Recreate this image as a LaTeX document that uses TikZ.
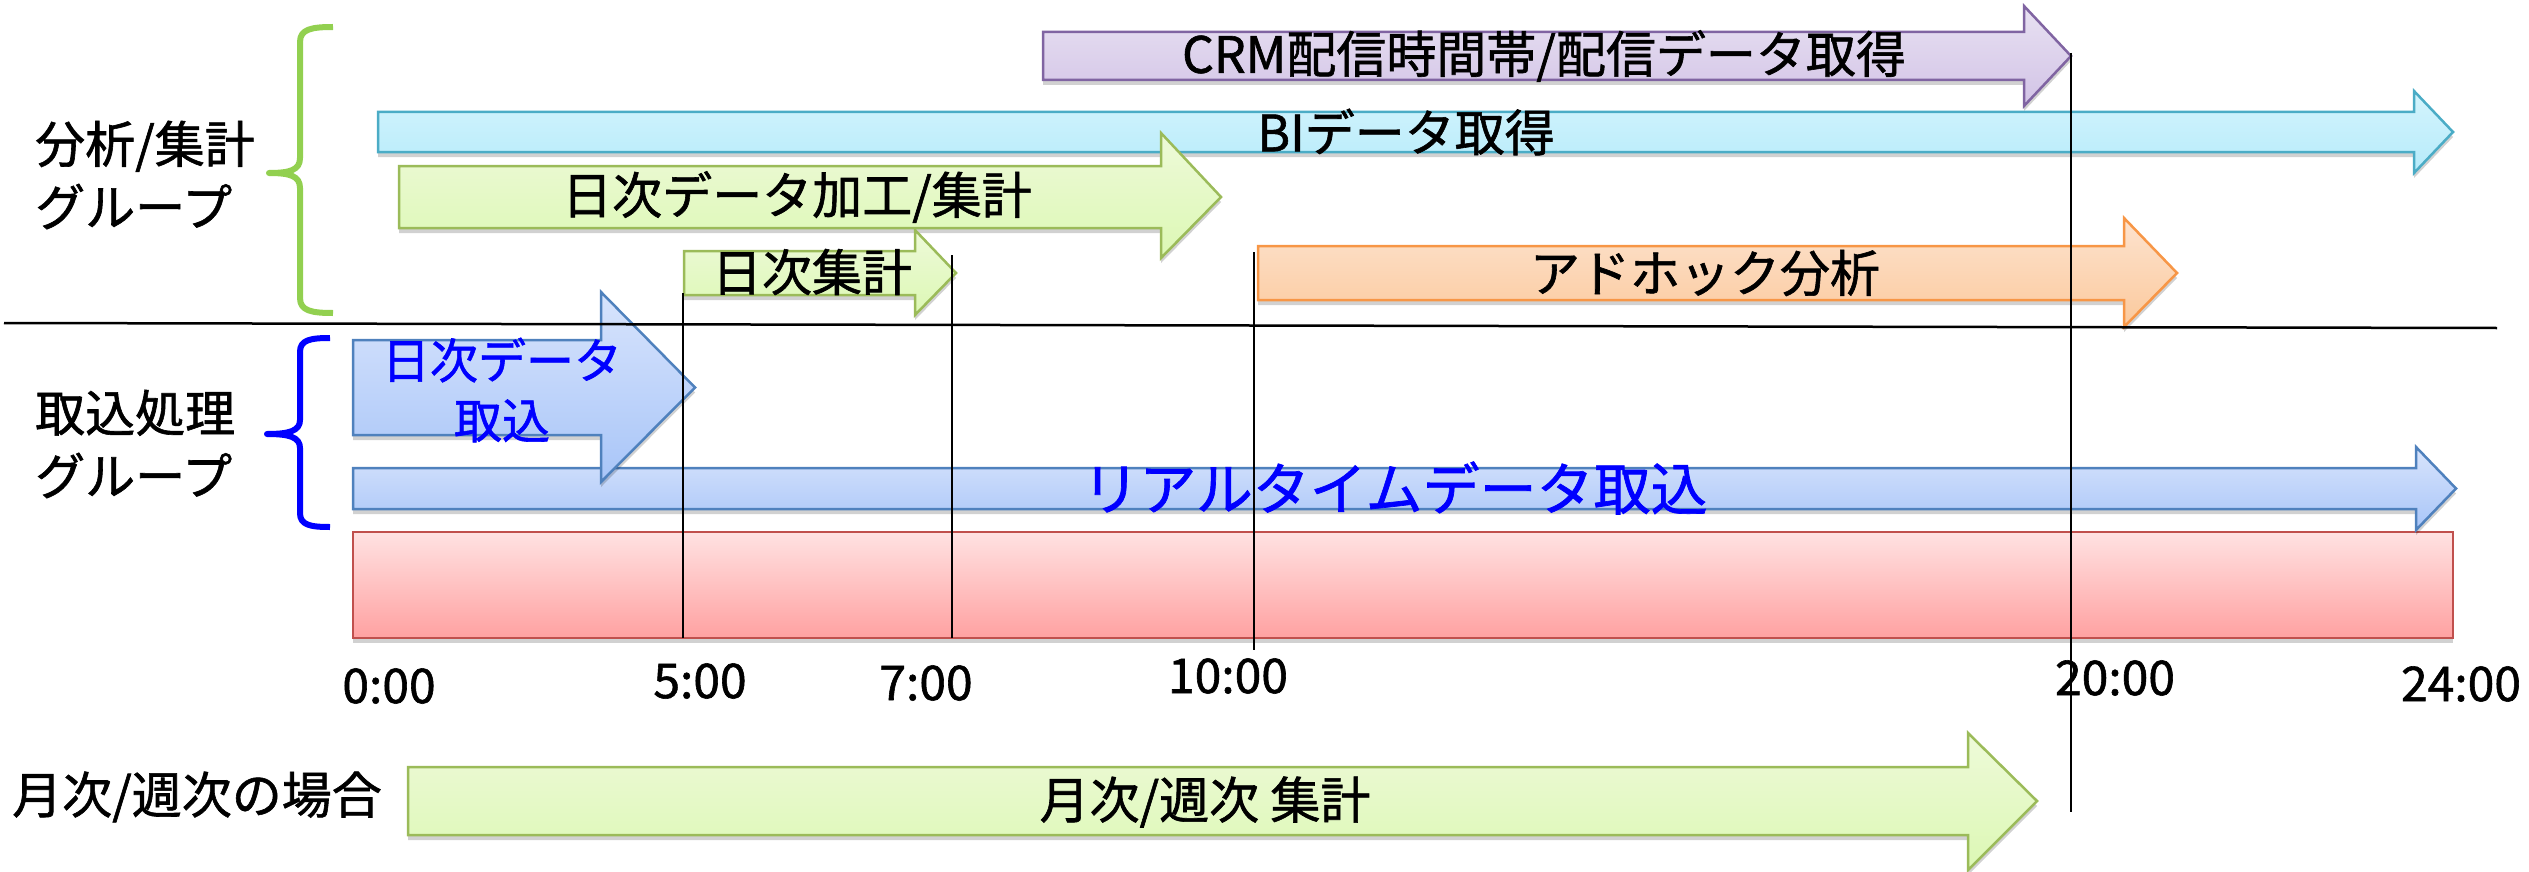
\documentclass[tikz,border=0pt]{standalone}
\usepackage{fontspec}
\setmainfont{Noto Sans CJK JP}[FakeBold=1.2]
\usetikzlibrary{shadows}
\definecolor{purpB}{HTML}{8064A2}\definecolor{purpT}{HTML}{E8E1F2}\definecolor{purpBo}{HTML}{D2C3E6}
\definecolor{cyanB}{HTML}{4BACC6}\definecolor{cyanT}{HTML}{D4F4FC}\definecolor{cyanBo}{HTML}{B6EBFB}
\definecolor{grnB}{HTML}{9BBB59}\definecolor{grnT}{HTML}{EEFAD9}\definecolor{grnBo}{HTML}{DCF8B4}
\definecolor{orgB}{HTML}{F79646}\definecolor{orgT}{HTML}{FDE3CF}\definecolor{orgBo}{HTML}{FBC99C}
\definecolor{bluB}{HTML}{4F81BD}\definecolor{bluT}{HTML}{D8E4FC}\definecolor{bluBo}{HTML}{A8C5F8}
\definecolor{redB}{HTML}{C0504D}\definecolor{redT}{HTML}{FFE2E2}\definecolor{redBo}{HTML}{FFA1A1}
\definecolor{braceG}{HTML}{92D050}\definecolor{braceB}{HTML}{0000FF}
% #1 style, #2 left, #3 top, #4 bottom, #5 head start, #6 head top, #7 head bottom, #8 tip
\newcommand{\blockarr}[8]{%
  \draw[#1] (#2,#3) -- (#5,#3) -- (#5,#6) -- (#8,{(#3+#4)/2}) -- (#5,#7) -- (#5,#4) -- (#2,#4) -- cycle;}
\tikzset{
  shd/.style={drop shadow={shadow xshift=0pt,shadow yshift=-5pt,opacity=0.18,fill=black}},
  purparr/.style={shd,draw=purpB,line width=2.5pt,top color=purpT,bottom color=purpBo},
  cyanarr/.style={shd,draw=cyanB,line width=2.5pt,top color=cyanT,bottom color=cyanBo},
  grnarr/.style={shd,draw=grnB,line width=2.5pt,top color=grnT,bottom color=grnBo},
  orgarr/.style={shd,draw=orgB,line width=2.5pt,top color=orgT,bottom color=orgBo},
  bluarr/.style={shd,draw=bluB,line width=2.5pt,top color=bluT,bottom color=bluBo},
  redbox/.style={shd,draw=redB,line width=2.5pt,top color=redT,bottom color=redBo},
  lbl/.style={font=\fontsize{50}{63}\selectfont,inner sep=0pt},
  bluelbl/.style={font=\fontsize{48}{60}\selectfont,inner sep=0pt,text=braceB,align=center},
  grouplbl/.style={font=\fontsize{50}{63}\selectfont,inner sep=0pt,align=left,anchor=west},
  timelbl/.style={font=\fontsize{48}{58}\selectfont,inner sep=0pt},
  vline/.style={line width=1.6pt,black},
  bracestyle/.style={line width=6pt,line cap=butt,line join=round},
}
\begin{document}
\begin{tikzpicture}[x=1pt,y=-1pt]
\useasboundingbox (0,0) rectangle (2529,872);
% arrows
\blockarr{purparr}{1043}{32}{80}{2024}{6}{106}{2071}
\blockarr{cyanarr}{378}{112}{152}{2414}{91}{173}{2453}
\blockarr{grnarr}{399}{166}{228}{1161}{133}{258}{1221}
\blockarr{grnarr}{684}{251}{295}{915}{230}{315}{956}
\blockarr{orgarr}{1258}{246}{300}{2124}{218}{327}{2177}
\draw[redbox] (353,532) rectangle (2453,638);
\blockarr{bluarr}{353}{468}{509}{2416}{447}{530}{2456}
\blockarr{bluarr}{353}{340}{435}{601}{292}{482}{695}
\blockarr{grnarr}{408}{767}{835}{1968}{733}{870}{2037}
% divider
\coordinate (divL) at (4,323);
\coordinate (divR) at (2497,328);
\draw[line width=2.5pt] (divL) -- (divR);
% braces
\draw[bracestyle,braceG] (333,27) .. controls (312,27) and (300,29) .. (300,42) -- (300,158)
  .. controls (300,170) and (290,173) .. (269,173) .. controls (290,173) and (300,176) .. (300,188)
  -- (300,298) .. controls (300,311) and (312,313) .. (333,313);
\draw[bracestyle,braceB] (330,338) .. controls (310,338) and (300,340) .. (300,352) -- (300,420)
  .. controls (300,431) and (289,434) .. (267,434) .. controls (289,434) and (300,437) .. (300,448)
  -- (300,513) .. controls (300,525) and (310,527) .. (330,527);
% texts
\node[lbl] (tcrm) at (1544,56) {CRM配信時間帯/配信データ取得};
\node[lbl] (tbi) at (1406,132) {BIデータ取得};
\node[lbl] (tkako) at (797,197) {日次データ加工/集計};
\node[lbl] (tshukei) at (812,272) {日次集計};
\node[lbl] (tadhoc) at (1705,273) {アドホック分析};
\node[bluelbl] (ttorikomi) at (502,390) {日次データ\\取込};
\node[lbl,text=braceB,font=\fontsize{57}{66}\selectfont] (treal) at (1395,488) {リアルタイムデータ取込};
\node[lbl] (tmonth) at (1205,802) {月次/週次 集計};
\node[grouplbl] (gbun) at (35,175) {分析/集計\\グループ};
\node[grouplbl] (gtori) at (35,444) {取込処理\\グループ};
\node[grouplbl] (gmon) at (12,797) {月次/週次の場合};
% time labels
\node[timelbl] (t0) at (389,686) {0:00};
\node[timelbl] (t5) at (700,681) {5:00};
\node[timelbl] (t7) at (926,683) {7:00};
\node[timelbl] (t10) at (1228,676) {10:00};
\node[timelbl] (t20) at (2115,678) {20:00};
\node[timelbl] (t24) at (2461,684) {24:00};
% vertical time lines
\coordinate (v5a) at (683,293); \coordinate (v5b) at (683,638);
\coordinate (v7a) at (952,255); \coordinate (v7b) at (952,638);
\coordinate (v10a) at (1254,252); \coordinate (v10b) at (1254,650);
\coordinate (v20a) at (2071,53); \coordinate (v20b) at (2071,812);
\draw[vline] (v5a) -- (v5b);
\draw[vline] (v7a) -- (v7b);
\draw[vline] (v10a) -- (v10b);
\draw[vline] (v20a) -- (v20b);
\end{tikzpicture}
\end{document}
